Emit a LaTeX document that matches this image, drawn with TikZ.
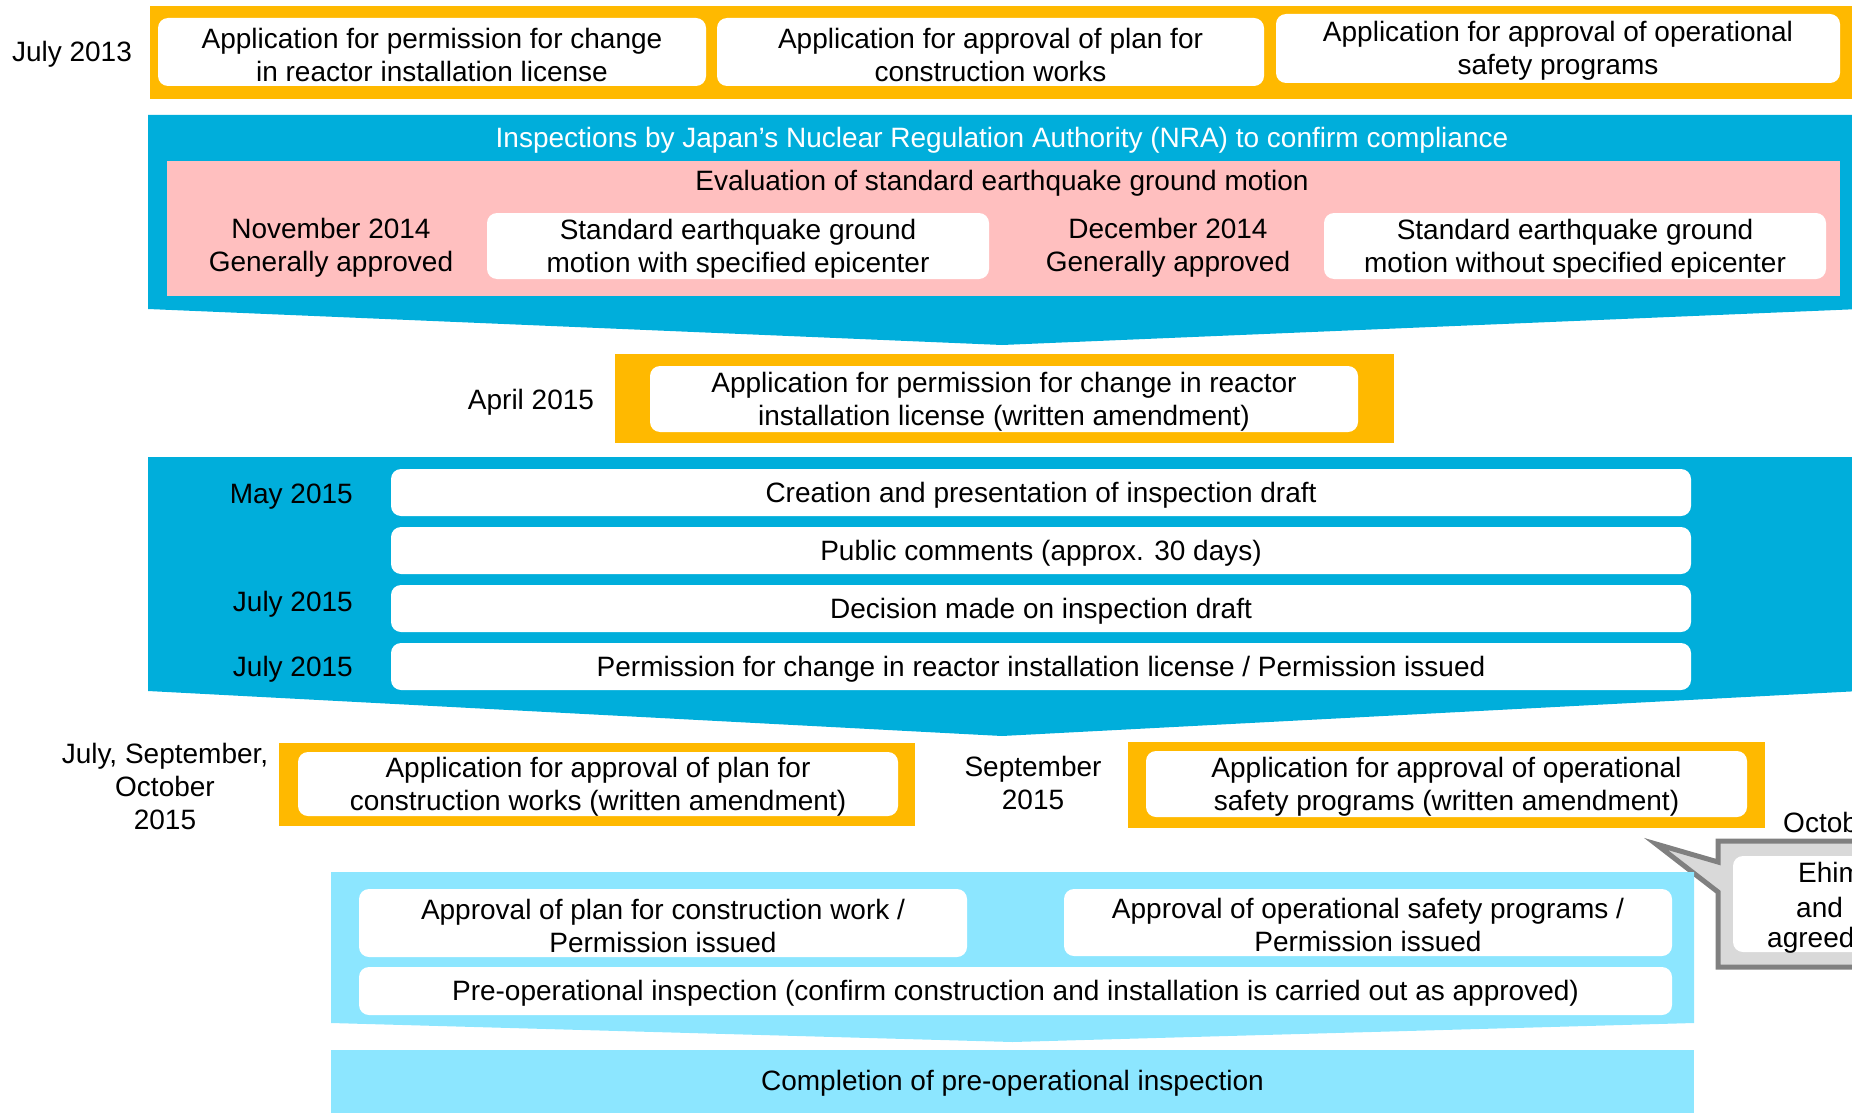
\documentclass[tikz,border=0pt]{standalone}
\usepackage{fontspec}
\setmainfont{Liberation Sans}
\definecolor{orangeC}{HTML}{FFB900}
\definecolor{blueC}{HTML}{00AEDB}
\definecolor{pinkC}{HTML}{FFBFBF}
\definecolor{lightC}{HTML}{8CE6FF}
\definecolor{grayF}{HTML}{D9D9D9}
\definecolor{grayD}{HTML}{808080}
\newcommand\wbx[5]{\node[wbox, minimum width=#3pt, minimum height=#4pt] (#1) at (#2) {};
  \node (#1t) at (#1) {#5};}
\begin{document}
\begin{tikzpicture}[x=1pt,y=-1pt,
  every node/.style={font=\fontsize{28}{33}\selectfont, inner sep=0pt, align=center, yshift=-2.5pt},
  wbox/.style={fill=white, rounded corners=10pt, yshift=2.5pt},
  lbl/.style={text=black}]
\useasboundingbox (0,0) rectangle (1852,1113);
\clip (0,0) rectangle (1852,1113);
% ---- top orange band
\fill[orangeC] (150,6) rectangle (1860,99);
\wbx{t1}{432,52}{548}{68}{Application for permission for change\\in reactor installation license}
\wbx{t2}{990.5,52}{547}{68}{Application for approval of plan for\\construction works}
\wbx{t3}{1558,48.5}{564}{69}{Application for approval of operational\\safety programs}
\node[lbl] (d2013) at (72,52) {July 2013};
% ---- NRA band
\fill[blueC] (148,115) -- (1860,115) -- (1860,309) -- (1002,345) -- (148,309) -- cycle;
\node[text=white] (nra) at (1002,138) {Inspections by Japan’s Nuclear Regulation Authority (NRA) to confirm compliance};
\fill[pinkC] (167,161) rectangle (1840,296);
\node (eval) at (1002,181) {Evaluation of standard earthquake ground motion};
\node (nov) at (331,245.5) {November 2014\\Generally approved};
\wbx{sw}{738,246}{502}{66}{Standard earthquake ground\\motion with specified epicenter}
\node (dec) at (1168,245.5) {December 2014\\Generally approved};
\wbx{swo}{1575,246}{502}{66}{Standard earthquake ground\\motion without specified epicenter}
% ---- April 2015
\fill[orangeC] (615,354) rectangle (1394,443);
\wbx{apr}{1004,399}{708}{66}{Application for permission for change in reactor\\installation license (written amendment)}
\node (d2015a) at (531,400) {April 2015};
% ---- band 2
\fill[blueC] (148,457) -- (1860,457) -- (1860,691) -- (1002,736) -- (148,691) -- cycle;
\wbx{r1}{1041,492.5}{1300}{47}{Creation and presentation of inspection draft}
\wbx{r2}{1041,550.5}{1300}{47}{Public comments (approx. 30 days)}
\wbx{r3}{1041,608.5}{1300}{47}{Decision made on inspection draft}
\wbx{r4}{1041,666.5}{1300}{47}{Permission for change in reactor installation license / Permission issued}
\node[anchor=east] (m1) at (353,494) {May 2015};
\node[anchor=east] (m3) at (353,602) {July 2015};
\node[anchor=east] (m4) at (353,667) {July 2015};
% ---- written amendments
\node (jso) at (165,784) {July, September,\\October\\2015};
\fill[orangeC] (279,743) rectangle (915,826);
\wbx{pw}{598,784}{600}{64}{Application for approval of plan for\\construction works (written amendment)}
\node (sep) at (1033,780) {September\\2015};
\fill[orangeC] (1128,742) rectangle (1765,828);
\wbx{ow}{1446.5,784}{601}{66}{Application for approval of operational\\safety programs (written amendment)}
\node[anchor=west] (oct) at (1783,820) {October 2015};
% ---- callout
\filldraw[fill=grayF, draw=grayD, line width=5pt, line join=miter]
  (1718,841) -- (1910,841) -- (1910,967) -- (1718,967) -- (1718,892) -- (1656,844) -- (1718,862) -- cycle;
\fill[white, rounded corners=10pt] (1733,856) rectangle (1920,952);
\node[anchor=west] (eh1) at (1798,870) {Ehime};
\node[anchor=west] (eh2) at (1796,905) {and};
\node[anchor=west] (eh3) at (1767,938) {agreed};
% ---- light blue section
\fill[lightC] (331,872) -- (1694,872) -- (1694,1023) -- (1012.5,1042) -- (331,1023) -- cycle;
\wbx{ap1}{663,923}{608}{68}{Approval of plan for construction work /\\Permission issued}
\wbx{ap2}{1368,922.5}{608}{67}{Approval of operational safety programs /\\Permission issued}
\wbx{pre}{1015.5,991}{1313}{48}{Pre-operational inspection (confirm construction and installation is carried out as approved)}
\fill[lightC] (331,1050) rectangle (1694,1120);
\node (comp) at (1012.5,1081) {Completion of pre-operational inspection};
\end{tikzpicture}
\end{document}
